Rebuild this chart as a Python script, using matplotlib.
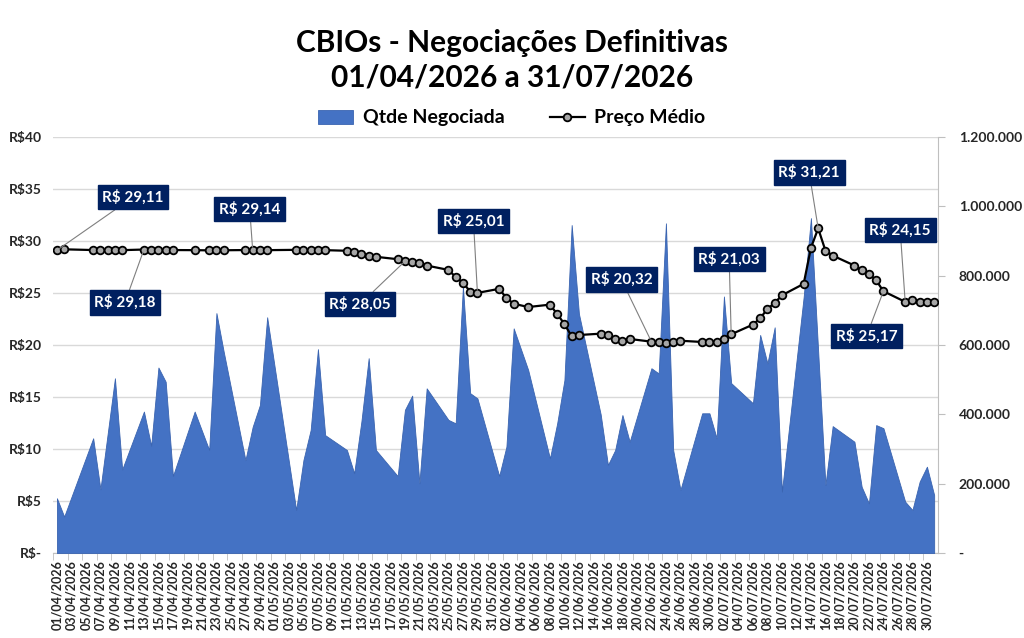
import matplotlib
matplotlib.use('agg')
import matplotlib.pyplot as plt
from matplotlib.patches import Patch
from matplotlib.lines import Line2D
from matplotlib.ticker import FuncFormatter, FixedLocator
import pandas as pd
import numpy as np

plt.rcParams['font.family'] = ['Lato', 'DejaVu Sans']

# Trading days (B3 calendar for the period)
start = "2026-04-01"
end = "2026-07-31"
holidays = ["2026-04-03", "2026-04-21", "2026-05-01", "2026-06-04"]

# Qtde negociada per trading day
qtde = [
    158000, 105000, 331000, 184000, 344000, 504000, 241000, 408000, 309000, 535000,
    494000, 222000, 408000, 297000, 692000, 581000, 268000, 364000, 427000, 680000,
    124000, 268000, 355000, 588000, 340000, 297000, 230000, 380000, 562000, 297000,
    222000, 413000, 454000, 201000, 475000, 384000, 374000, 768000, 461000, 446000,
    222000, 307000, 648000, 528000, 273000, 374000, 499000, 946000, 690000, 400000,
    254000, 297000, 398000, 321000, 533000, 518000, 951000, 297000, 182000, 403000,
    403000, 331000, 740000, 490000, 432000, 629000, 547000, 651000, 177000, 739000,
    966000, 581000, 196000, 366000, 321000, 191000, 143000, 369000, 360000, 148000,
    124000, 206000, 249000, 167000,
]

# Preco medio (R$) per trading day
preco = [
    29.11, 29.20, 29.13, 29.13, 29.12, 29.12, 29.12, 29.18, 29.15, 29.14,
    29.13, 29.13, 29.12, 29.10, 29.09, 29.11, 29.13, 29.14, 29.15, 29.12,
    29.15, 29.13, 29.12, 29.12, 29.12, 29.06, 28.92, 28.79, 28.58, 28.48,
    28.25, 28.05, 28.02, 27.92, 27.64, 27.22, 26.54, 25.99, 25.14, 25.01,
    25.40, 24.52, 23.97, 23.65, 23.88, 22.98, 22.02, 20.83, 20.96, 21.09,
    20.96, 20.58, 20.42, 20.58, 20.32, 20.25, 20.16, 20.29, 20.41, 20.29,
    20.29, 20.32, 20.62, 21.03, 21.96, 22.57, 23.47, 24.04, 24.78, 25.88,
    29.34, 31.21, 29.08, 28.60, 27.64, 27.19, 26.84, 26.22, 25.17, 24.15,
    24.37, 24.11, 24.11, 24.11,
]

# data labels shown on the price line
label_dates = ["2026-04-01", "2026-04-13", "2026-04-28", "2026-05-19", "2026-05-29",
               "2026-06-22", "2026-07-03", "2026-07-15", "2026-07-27", "2026-07-24"]
label_texts = ["R$ 29,11", "R$ 29,18", "R$ 29,14", "R$ 28,05", "R$ 25,01",
               "R$ 20,32", "R$ 21,03", "R$ 31,21", "R$ 24,15", "R$ 25,17"]
label_offsets = [(76, 53), (-19, -53), (-3, 41), (-45, -43), (-4, 72),
                 (-30, 62), (-2, 75), (-9, 56), (-5, 72), (-17, -45)]

dates = pd.bdate_range(start, end, freq="C", holidays=holidays)
day = np.asarray((dates - pd.Timestamp(start)).days)
n_days = (pd.Timestamp(end) - pd.Timestamp(start)).days + 1
tick_dates = pd.date_range(start, end, freq="2D")
tick_pos = np.asarray((tick_dates - pd.Timestamp(start)).days)

blue = "#4472C4"
navy = "#002060"
txt = "#262626"

fig = plt.figure(figsize=(10.24, 6.38), dpi=100)
rect = [53.3 / 1024, 1 - 553 / 638, 884.5 / 1024, 416 / 638]

# price axis (left) - holds grid only
ax = fig.add_axes(rect)
ax.set_xlim(-0.5, n_days - 0.5)
ax.set_ylim(0, 40)
ax.set_yticks(range(0, 41, 5))
ax.yaxis.set_major_formatter(FuncFormatter(lambda v, p: "R$-" if v == 0 else "R$%d" % v))
ax.grid(axis="y", color="#D9D9D9", lw=1)
ax.set_axisbelow(True)
for s in ["top", "left", "right"]:
    ax.spines[s].set_visible(False)
ax.spines["bottom"].set_color("#BFBFBF")
ax.tick_params(axis="y", length=0, pad=8, labelsize=10, labelcolor=txt)
ax.set_xticks(tick_pos)
ax.set_xticklabels([d.strftime("%d/%m/%Y") for d in tick_dates], rotation=90)
ax.xaxis.set_minor_locator(FixedLocator(tick_pos - 0.5))
ax.tick_params(axis="x", which="major", length=0, pad=5, labelsize=9, labelcolor=txt)
ax.tick_params(axis="x", which="minor", length=5, color="#BFBFBF")
for lab in ax.get_xticklabels() + ax.get_yticklabels():
    lab.set_fontweight("bold")

# quantity axis (right) - area
axq = ax.twinx()
axq.fill_between(day, qtde, color=blue, lw=0.6, edgecolor="#3A64B0")
axq.set_ylim(0, 1200000)
axq.set_yticks(range(0, 1200001, 200000))
axq.yaxis.set_major_formatter(FuncFormatter(
    lambda v, p: "-" if v == 0 else ("{:,.0f}".format(v)).replace(",", ".")))
for s in ["top", "left", "bottom"]:
    axq.spines[s].set_visible(False)
axq.spines["right"].set_color("#BFBFBF")
axq.tick_params(axis="y", length=5, color="#BFBFBF", pad=10, labelsize=10, labelcolor=txt)
for lab in axq.get_yticklabels():
    lab.set_fontweight("bold")

# price line on top of the area
axp = fig.add_axes(rect, sharex=ax, sharey=ax, frameon=False)
axp.axis("off")
axp.plot(day, preco, color="black", lw=1.6, marker="o", ms=5.5,
         mfc="#A6A6A6", mec="black", mew=1.3, zorder=3)

for d, t, off in zip(label_dates, label_texts, label_offsets):
    k = list(dates).index(pd.Timestamp(d))
    axp.annotate(t, xy=(day[k], preco[k]), xytext=off, textcoords="offset pixels",
                 ha="center", va="center", color="white", fontsize=11, fontweight="bold",
                 bbox=dict(boxstyle="square,pad=0.3", fc=navy, ec=navy),
                 arrowprops=dict(arrowstyle="-", color="#7F7F7F", lw=0.8,
                                 shrinkA=0, shrinkB=2),
                 zorder=4, annotation_clip=False)

fig.text(0.5, 1 - 43 / 638, "CBIOs - Negociações Definitivas", ha="center", va="center",
         fontsize=21.5, fontweight="bold", color="black")
fig.text(0.5, 1 - 78 / 638, "01/04/2026 a 31/07/2026", ha="center", va="center",
         fontsize=21.5, fontweight="bold", color="black")

handles = [Patch(facecolor=blue, edgecolor="#3A64B0", lw=0.6),
           Line2D([], [], color="black", lw=1.6, marker="o", ms=5.5,
                  mfc="#A6A6A6", mec="black", mew=1.3)]
fig.legend(handles, ["Qtde Negociada", "Preço Médio"], loc="center",
           bbox_to_anchor=(0.5, 1 - 118 / 638), ncol=2, frameon=False,
           prop={"size": 14, "weight": "bold"}, handlelength=1.8, handletextpad=0.5,
           columnspacing=2.3)

fig.savefig("out.png", dpi=100)
